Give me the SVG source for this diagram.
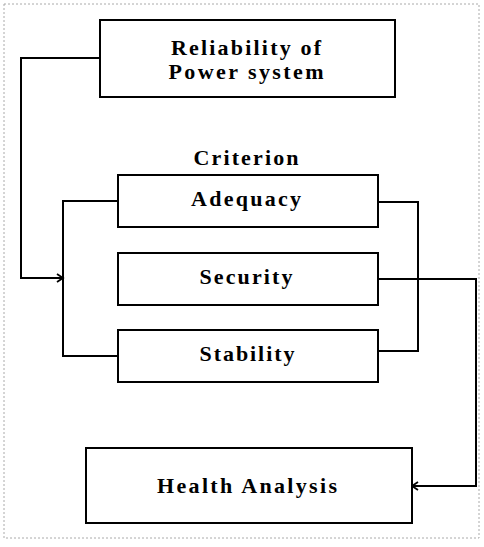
<svg xmlns="http://www.w3.org/2000/svg" width="484" height="547" viewBox="0 0 484 547">
<defs>
<style>
.box{fill:#fff;stroke:#000;stroke-width:2}
.lbl{font-family:"Liberation Serif","Times New Roman",serif;font-weight:bold;font-size:22px;fill:#000;text-anchor:middle}
.wire{fill:none;stroke:#000;stroke-width:2}
.frame{fill:none;stroke:#aaa;stroke-width:1;stroke-dasharray:2 2}
</style>
<marker id="arr" markerWidth="10" markerHeight="10" refX="8" refY="5" orient="auto" markerUnits="userSpaceOnUse">
<path d="M2,1 L8,5 L2,9" fill="none" stroke="#000" stroke-width="1.8"/>
</marker>
</defs>
<rect width="484" height="547" fill="#fff"/>
<rect class="frame" x="4" y="4" width="475" height="534"/>
<g id="connectors">
<path class="wire" d="M100,58 H21 V278 H63" marker-end="url(#arr)"/>
<path class="wire" d="M118,201 H63 V356 H118"/>
<path class="wire" d="M378,202 H418 V351 H378"/>
<path class="wire" d="M378,279 H476 V486 H412" marker-end="url(#arr)"/>
</g>
<g id="reliability">
<rect class="box" x="100" y="20" width="295" height="77"/>
<text class="lbl" x="246" y="55" textLength="150" lengthAdjust="spacing">Reliability of</text>
<text class="lbl" x="246" y="79" textLength="155" lengthAdjust="spacing">Power system</text>
</g>
<g id="criterion">
<text class="lbl" x="246" y="165" textLength="105" lengthAdjust="spacing">Criterion</text>
</g>
<g id="adequacy">
<rect class="box" x="118" y="175" width="260" height="52"/>
<text class="lbl" x="246" y="206" textLength="110" lengthAdjust="spacing">Adequacy</text>
</g>
<g id="security">
<rect class="box" x="118" y="253" width="260" height="52"/>
<text class="lbl" x="246" y="284" textLength="93" lengthAdjust="spacing">Security</text>
</g>
<g id="stability">
<rect class="box" x="118" y="330" width="260" height="52"/>
<text class="lbl" x="247" y="361" textLength="95" lengthAdjust="spacing">Stability</text>
</g>
<g id="health">
<rect class="box" x="86" y="448" width="326" height="75"/>
<text class="lbl" x="247" y="493" textLength="180" lengthAdjust="spacing">Health Analysis</text>
</g>
</svg>
